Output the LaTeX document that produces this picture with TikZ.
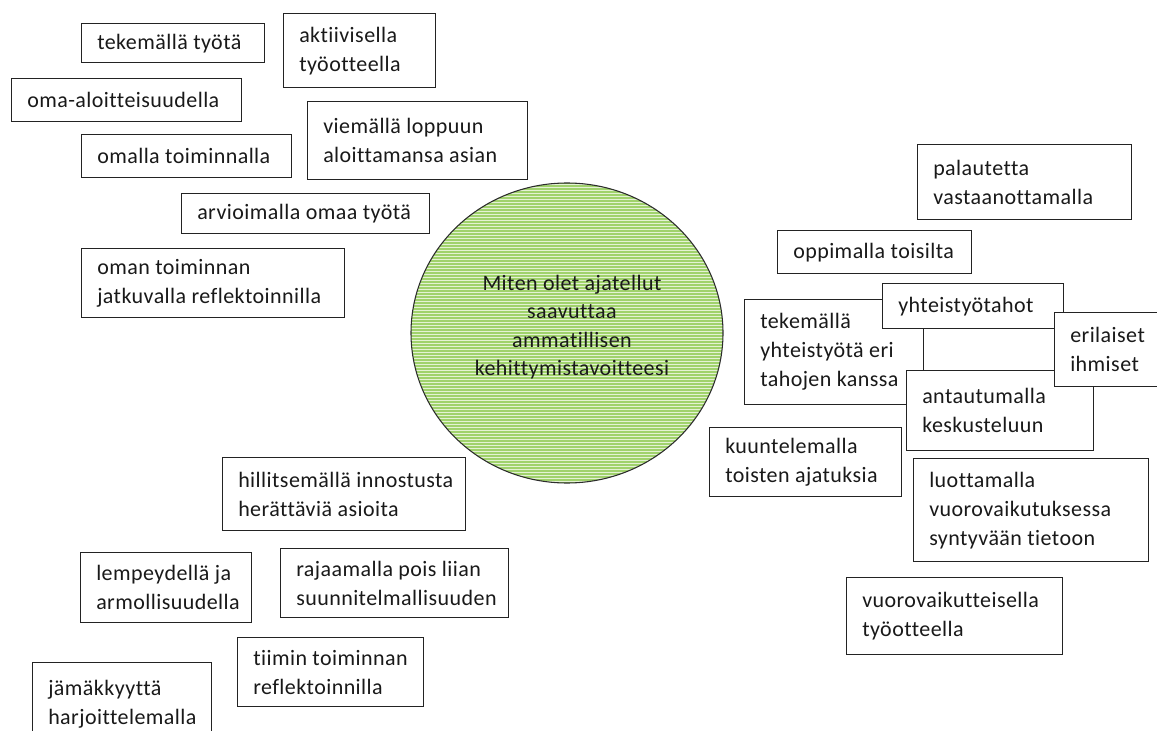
\documentclass[tikz,border=0pt]{standalone}
\usepackage{fontspec}
\setmainfont{Carlito}[Ligatures=NoCommon, LetterSpace=2.0]
\usetikzlibrary{shapes.geometric}

\definecolor{stripegreen}{RGB}{160,210,108}
\definecolor{palegreen}{RGB}{228,242,212}
\definecolor{rim}{RGB}{45,45,45}
\definecolor{boxline}{RGB}{35,35,35}
\definecolor{ink}{RGB}{25,25,25}

\tikzset{
  box/.style={draw=boxline, line width=1.1pt, fill=white, rectangle, inner sep=0pt},
  txt/.style={align=left, inner sep=0pt, text=ink,
    font=\fontsize{16.5pt}{21.75pt}\selectfont},
  goal/.style={ellipse, draw=rim, line width=0.8pt, fill=palegreen, inner sep=0pt,
    path picture={
      \foreach \k in {0,...,110}
        \draw[stripegreen, line width=1.3pt]
          ([yshift=-\k*2.25pt]path picture bounding box.north west) --
          ([yshift=-\k*2.25pt]path picture bounding box.north east);
    }},
}

% \bx{name}{x1}{y1}{x2}{y2}{text}: framed box with left-aligned text
\newcommand\bx[6]{%
  \pgfmathsetmacro\boxwd{(#4-#2)*0.75}%
  \pgfmathsetmacro\boxht{(#5-#3)*0.75}%
  \node[box, minimum width=\boxwd pt, minimum height=\boxht pt, anchor=north west]
    (#1) at (#2,#3) {};
  \node[txt, anchor=west] (#1t) at ([xshift=12pt]#1.west) {#6};
}

\begin{document}
\begin{tikzpicture}[x=0.75pt, y=-0.75pt]
\useasboundingbox (0,0) rectangle (1157,731);

% central goal
\node[goal, minimum width=234pt, minimum height=225pt] (q) at (567,333) {};
\node[align=center, inner sep=0pt, text=ink,
  font=\fontsize{16.5pt}{21.4pt}\selectfont] (qt) at (572,327)
  {Miten olet ajatellut\\saavuttaa\\ammatillisen\\kehittymistavoitteesi};

% left group
\bx{b1}{81}{23}{264}{62}{tekemällä työtä}
\bx{b2}{283}{13}{435}{87}{aktiivisella\\työotteella}
\bx{b3}{11}{78}{241}{121}{oma-aloitteisuudella}
\bx{b4}{307}{101}{527}{179}{viemällä loppuun\\aloittamansa asian}
\bx{b5}{81}{134}{291}{177}{omalla toiminnalla}
\bx{b6}{181}{193}{429}{233}{arvioimalla omaa työtä}
\bx{b7}{81}{248}{344}{317}{oman toiminnan\\jatkuvalla reflektoinnilla}

% right group
\bx{b8}{917}{144}{1131}{219}{palautetta\\vastaanottamalla}
\bx{b9}{777}{230}{971}{273}{oppimalla toisilta}
\bx{b10}{744}{299}{923}{404}{tekemällä\\yhteistyötä eri\\tahojen kanssa}
\bx{b11}{882}{283}{1063}{328}{yhteistyötahot}
\bx{b13}{906}{370}{1093}{450}{antautumalla\\keskusteluun}
\bx{b12}{1054}{312}{1157}{386}{erilaiset\\ihmiset}
\bx{b14}{709}{427}{901}{496}{kuuntelemalla\\toisten ajatuksia}
\bx{b15}{913}{458}{1148}{561}{luottamalla\\vuorovaikutuksessa\\syntyvään tietoon}
\bx{b16}{846}{577}{1062}{654}{vuorovaikutteisella\\työotteella}

% lower left group
\bx{b17}{222}{457}{465}{530}{hillitsemällä innostusta\\herättäviä asioita}
\bx{b18}{80}{552}{251}{622}{lempeydellä ja\\armollisuudella}
\bx{b19}{280}{548}{508}{617}{rajaamalla pois liian\\suunnitelmallisuuden}
\bx{b20}{237}{637}{423}{706}{tiimin toiminnan\\reflektoinnilla}
\bx{b21}{32}{662}{211}{745}{jämäkkyyttä\\harjoittelemalla}
\end{tikzpicture}
\end{document}
